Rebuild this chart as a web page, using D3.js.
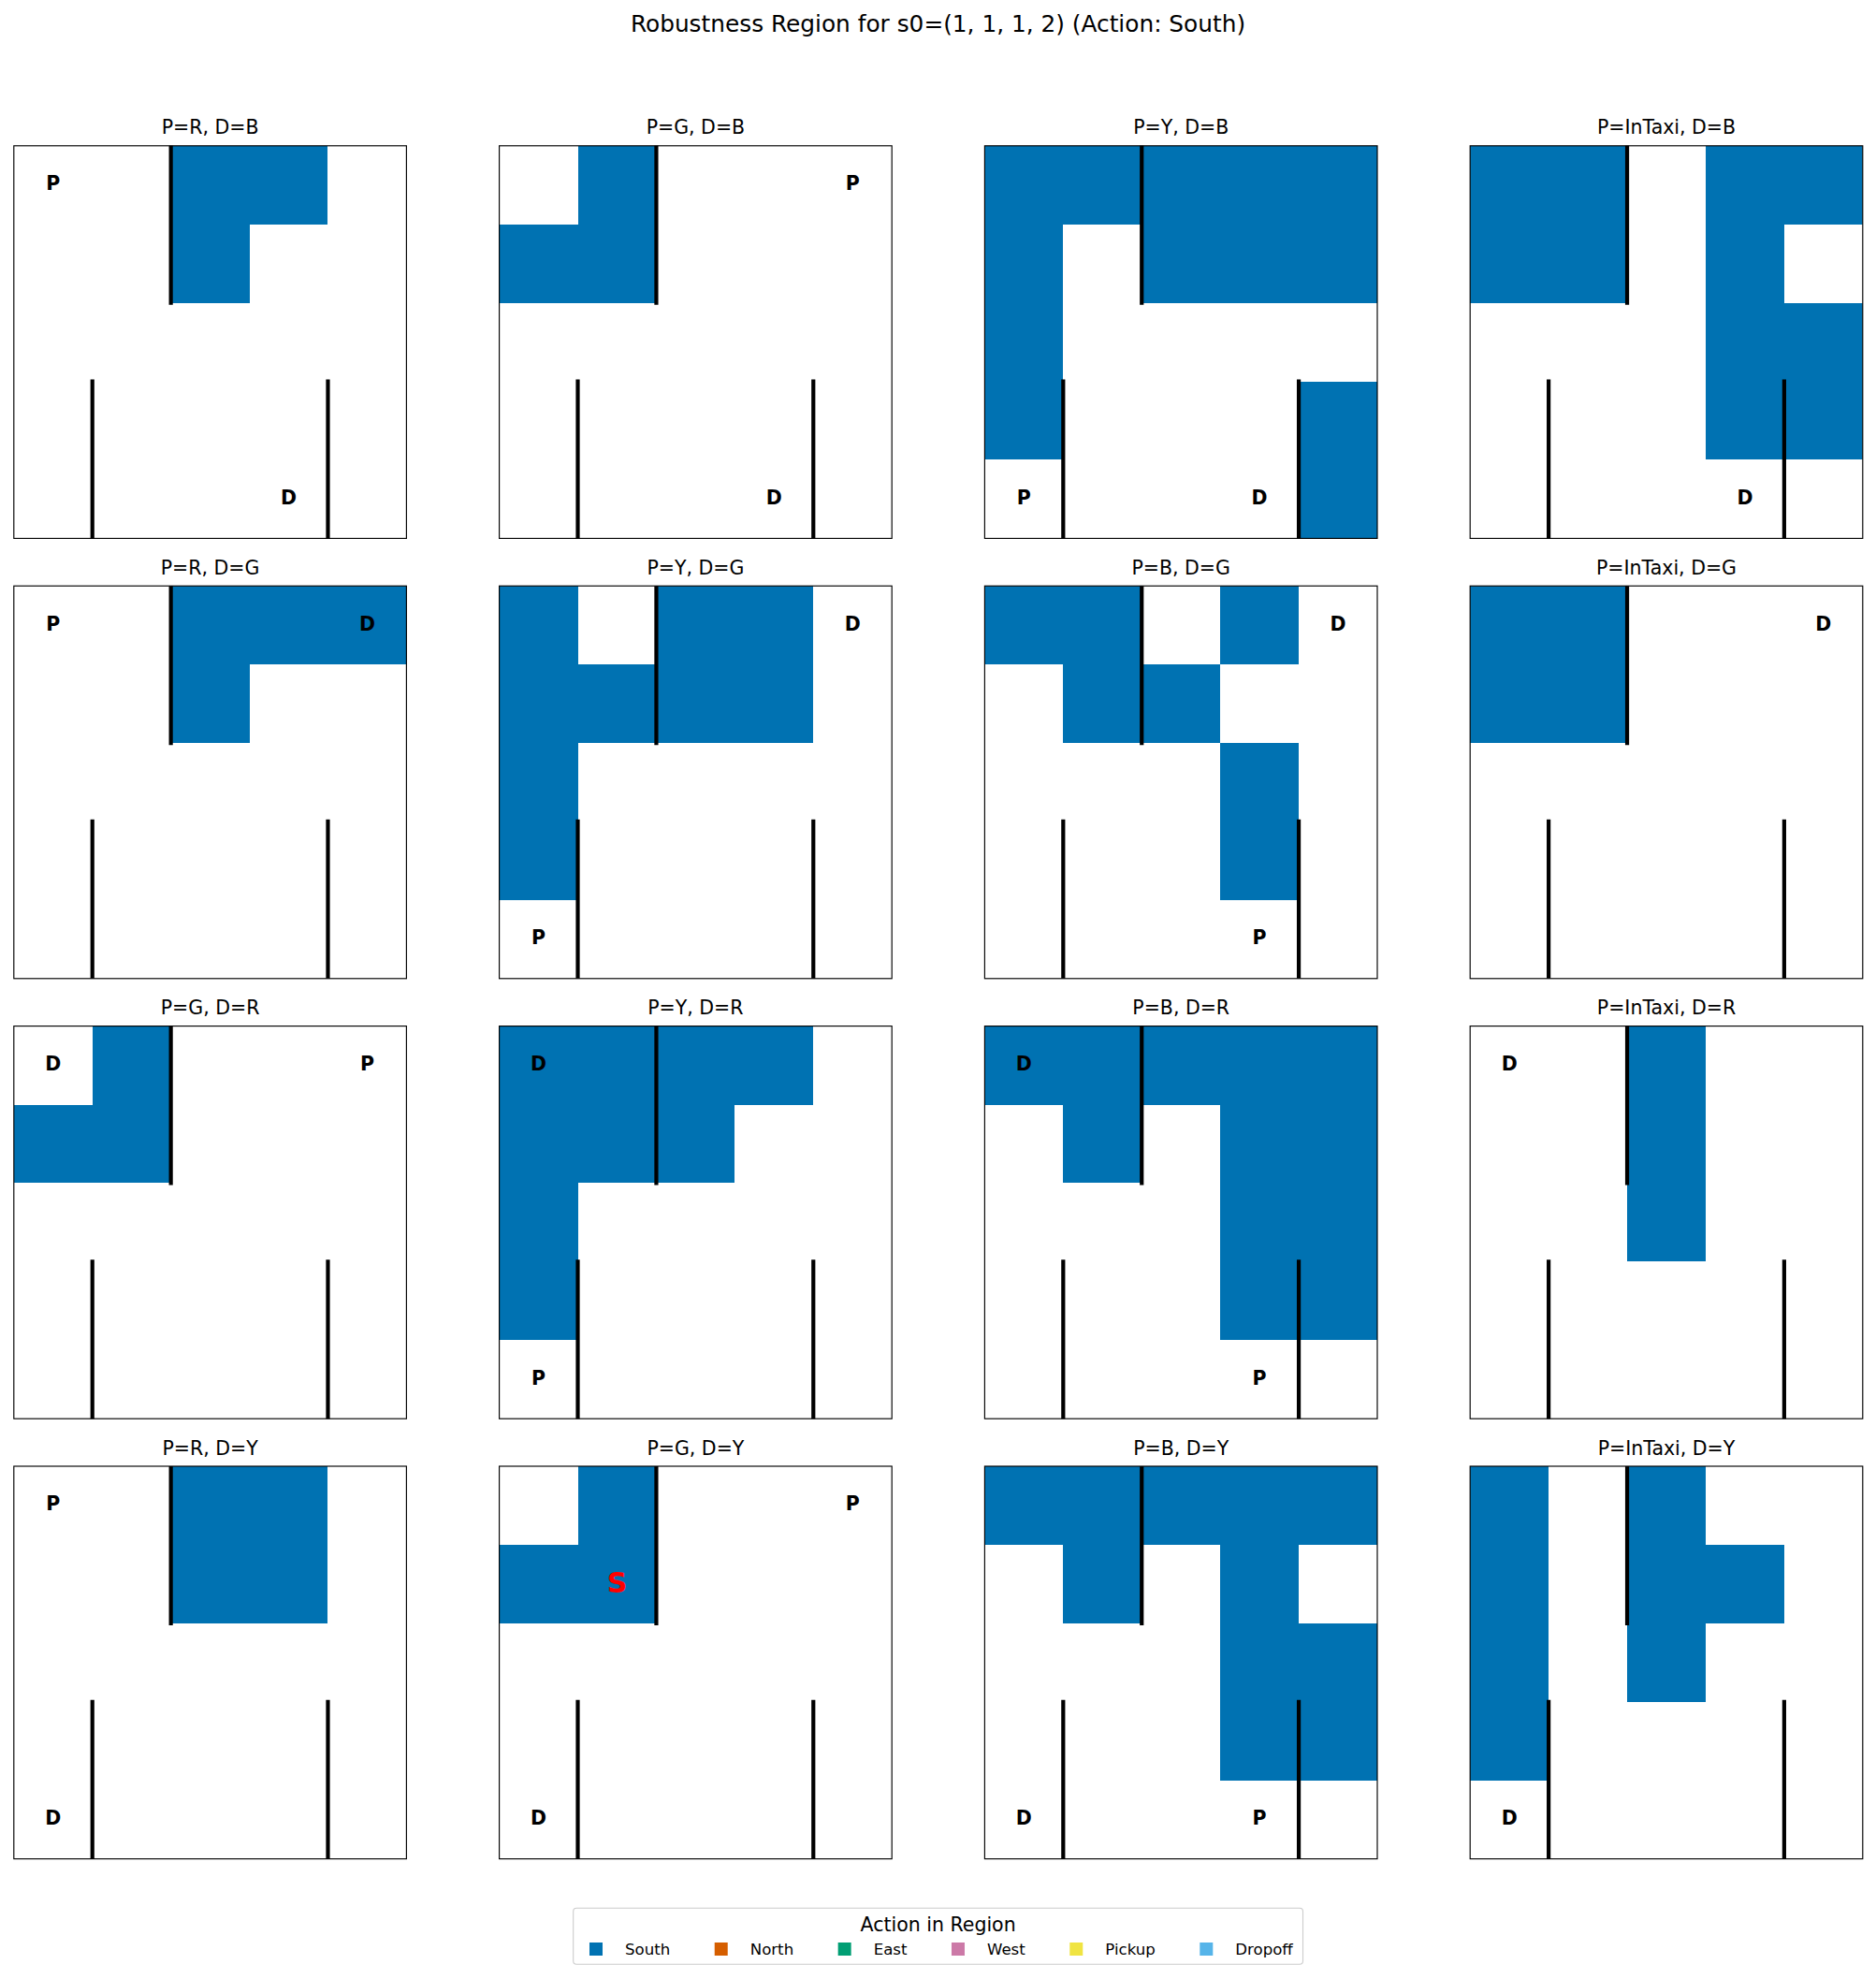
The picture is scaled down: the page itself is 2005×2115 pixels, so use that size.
<!DOCTYPE html>
<html>
<head>
<meta charset="utf-8">
<script src="https://cdn.jsdelivr.net/npm/d3@7"></script>
<style>
  html, body { margin: 0; padding: 0; background: #ffffff; }
  svg { display: block; font-family: "DejaVu Sans", sans-serif; }
</style>
</head>
<body>
<svg id="chart" width="2005" height="2115"></svg>
<script>
// ---------------- data ----------------
const chartTitle = "Robustness Region for s0=(1, 1, 1, 2) (Action: South)";
const locationNames = ["R", "G", "Y", "B"];
const locationCells = [[0, 0], [0, 4], [4, 0], [4, 3]]; // [row, col]
const startState = [1, 1, 1, 2]; // taxi row, taxi col, passenger idx, destination idx
const startLabel = "S";

const panelPassenger = ["R", "G", "Y", "InTaxi",
                        "R", "Y", "B", "InTaxi",
                        "G", "Y", "B", "InTaxi",
                        "R", "G", "B", "InTaxi"];
const panelDestination = ["B", "B", "B", "B",
                          "G", "G", "G", "G",
                          "R", "R", "R", "R",
                          "Y", "Y", "Y", "Y"];
// 1 = action South in region, 0 = empty; rows top to bottom
const panelRegions = [
  ["00110", "00100", "00000", "00000", "00000"],
  ["01000", "11000", "00000", "00000", "00000"],
  ["11111", "10111", "10000", "10001", "00001"],
  ["11011", "11010", "00011", "00011", "00000"],
  ["00111", "00100", "00000", "00000", "00000"],
  ["10110", "11110", "10000", "10000", "00000"],
  ["11010", "01100", "00010", "00010", "00000"],
  ["11000", "11000", "00000", "00000", "00000"],
  ["01000", "11000", "00000", "00000", "00000"],
  ["11110", "11100", "10000", "10000", "00000"],
  ["11111", "01011", "00011", "00011", "00000"],
  ["00100", "00100", "00100", "00000", "00000"],
  ["00110", "00110", "00000", "00000", "00000"],
  ["01000", "11000", "00000", "00000", "00000"],
  ["11111", "01010", "00011", "00011", "00000"],
  ["10100", "10110", "10100", "10000", "00000"]
];
// walls: [x, y0, y1] in grid units
const walls = [[2, 0, 2], [1, 3, 5], [4, 3, 5]];

const actionNames = ["South", "North", "East", "West", "Pickup", "Dropoff"];
const actionColors = ["#0072B2", "#D55E00", "#009E73", "#CC79A7", "#F0E442", "#56B4E9"];
const regionActionIndex = 0;
const legendTitle = "Action in Region";

// ---------------- layout ----------------
const W = 2005, H = 2115;
const left0 = 14.8, colStep = 518.8, top0 = 155.8, rowStep = 470.4, size = 419.6;
const nGrid = 5;

const svg = d3.select("#chart");
svg.append("rect").attr("width", W).attr("height", H).attr("fill", "#fff");

svg.append("text")
  .attr("x", W / 2).attr("y", 34)
  .attr("text-anchor", "middle")
  .attr("font-size", 24.8)
  .attr("fill", "#000")
  .text(chartTitle);

const x = d3.scaleLinear().domain([0, nGrid]).range([0, size]);
const y = d3.scaleLinear().domain([0, nGrid]).range([0, size]);

const defs = svg.append("defs");
defs.append("clipPath").attr("id", "axclip")
  .append("rect").attr("x", 0).attr("y", 0).attr("width", size).attr("height", size);

panelRegions.forEach((grid, i) => {
  const r = Math.floor(i / 4), c = i % 4;
  const g = svg.append("g")
    .attr("transform", `translate(${left0 + c * colStep},${top0 + r * rowStep})`);

  // title
  g.append("text")
    .attr("x", size / 2).attr("y", -12.5)
    .attr("text-anchor", "middle")
    .attr("font-size", 20.5)
    .attr("fill", "#000")
    .text(`P=${panelPassenger[i]}, D=${panelDestination[i]}`);

  const inner = g.append("g").attr("clip-path", "url(#axclip)");

  // cells
  const cells = [];
  grid.forEach((rowStr, ri) => {
    rowStr.split("").forEach((v, ci) => {
      if (v === "1") cells.push({ row: ri, col: ci });
    });
  });
  inner.selectAll("rect.cell").data(cells).enter().append("rect")
    .attr("class", "cell")
    .attr("x", d => x(d.col))
    .attr("y", d => y(d.row))
    .attr("width", x(1) - x(0))
    .attr("height", y(1) - y(0))
    .attr("shape-rendering", "crispEdges")
    .attr("fill", actionColors[regionActionIndex]);

  // walls
  inner.selectAll("line.wall").data(walls).enter().append("line")
    .attr("class", "wall")
    .attr("x1", d => x(d[0])).attr("x2", d => x(d[0]))
    .attr("y1", d => y(d[1])).attr("y2", d => y(d[2]))
    .attr("stroke", "#000")
    .attr("stroke-width", 4.2)
    .attr("stroke-linecap", "square");

  // letters
  const labels = [];
  const pi = locationNames.indexOf(panelPassenger[i]);
  const di = locationNames.indexOf(panelDestination[i]);
  if (pi >= 0) labels.push({ t: "P", row: locationCells[pi][0], col: locationCells[pi][1] });
  if (di >= 0) labels.push({ t: "D", row: locationCells[di][0], col: locationCells[di][1] });
  inner.selectAll("text.loc").data(labels).enter().append("text")
    .attr("class", "loc")
    .attr("x", d => x(d.col + 0.5))
    .attr("y", d => y(d.row + 0.5) + 5.5)
    .attr("text-anchor", "middle")
    .attr("font-size", 20.5)
    .attr("font-weight", "bold")
    .attr("fill", "#000")
    .text(d => d.t);

  // start marker
  if (pi === startState[2] && di === startState[3]) {
    inner.append("text")
      .attr("x", x(startState[1] + 0.5))
      .attr("y", y(startState[0] + 0.5) + 9.5)
      .attr("text-anchor", "middle")
      .attr("font-size", 30)
      .attr("font-weight", "bold")
      .attr("fill", "#ff0000")
      .text(startLabel);
  }

  // frame
  g.append("rect")
    .attr("x", 0).attr("y", 0).attr("width", size).attr("height", size)
    .attr("fill", "none").attr("stroke", "#000").attr("stroke-width", 1.15);
});

// ---------------- legend ----------------
const legBox = { x: 612.7, y: 2039.3, w: 779.8, h: 60 };
const leg = svg.append("g");
leg.append("rect")
  .attr("x", legBox.x).attr("y", legBox.y)
  .attr("width", legBox.w).attr("height", legBox.h)
  .attr("rx", 3.5).attr("ry", 3.5)
  .attr("fill", "#fff").attr("fill-opacity", 0.8)
  .attr("stroke", "#cccccc").attr("stroke-width", 1.1);

leg.append("text")
  .attr("x", legBox.x + legBox.w / 2).attr("y", 2063.5)
  .attr("text-anchor", "middle")
  .attr("font-size", 20.5)
  .attr("fill", "#000")
  .text(legendTitle);

let cursor = 630;
actionNames.forEach((name, k) => {
  leg.append("rect")
    .attr("x", cursor).attr("y", 2076)
    .attr("width", 14).attr("height", 14)
    .attr("fill", actionColors[k]);
  const t = leg.append("text")
    .attr("x", cursor + 38).attr("y", 2089)
    .attr("font-size", 16.6)
    .attr("fill", "#000")
    .text(name);
  const tw = t.node().getComputedTextLength();
  cursor = cursor + 38 + tw + 47.5;
});
</script>
</body>
</html>
